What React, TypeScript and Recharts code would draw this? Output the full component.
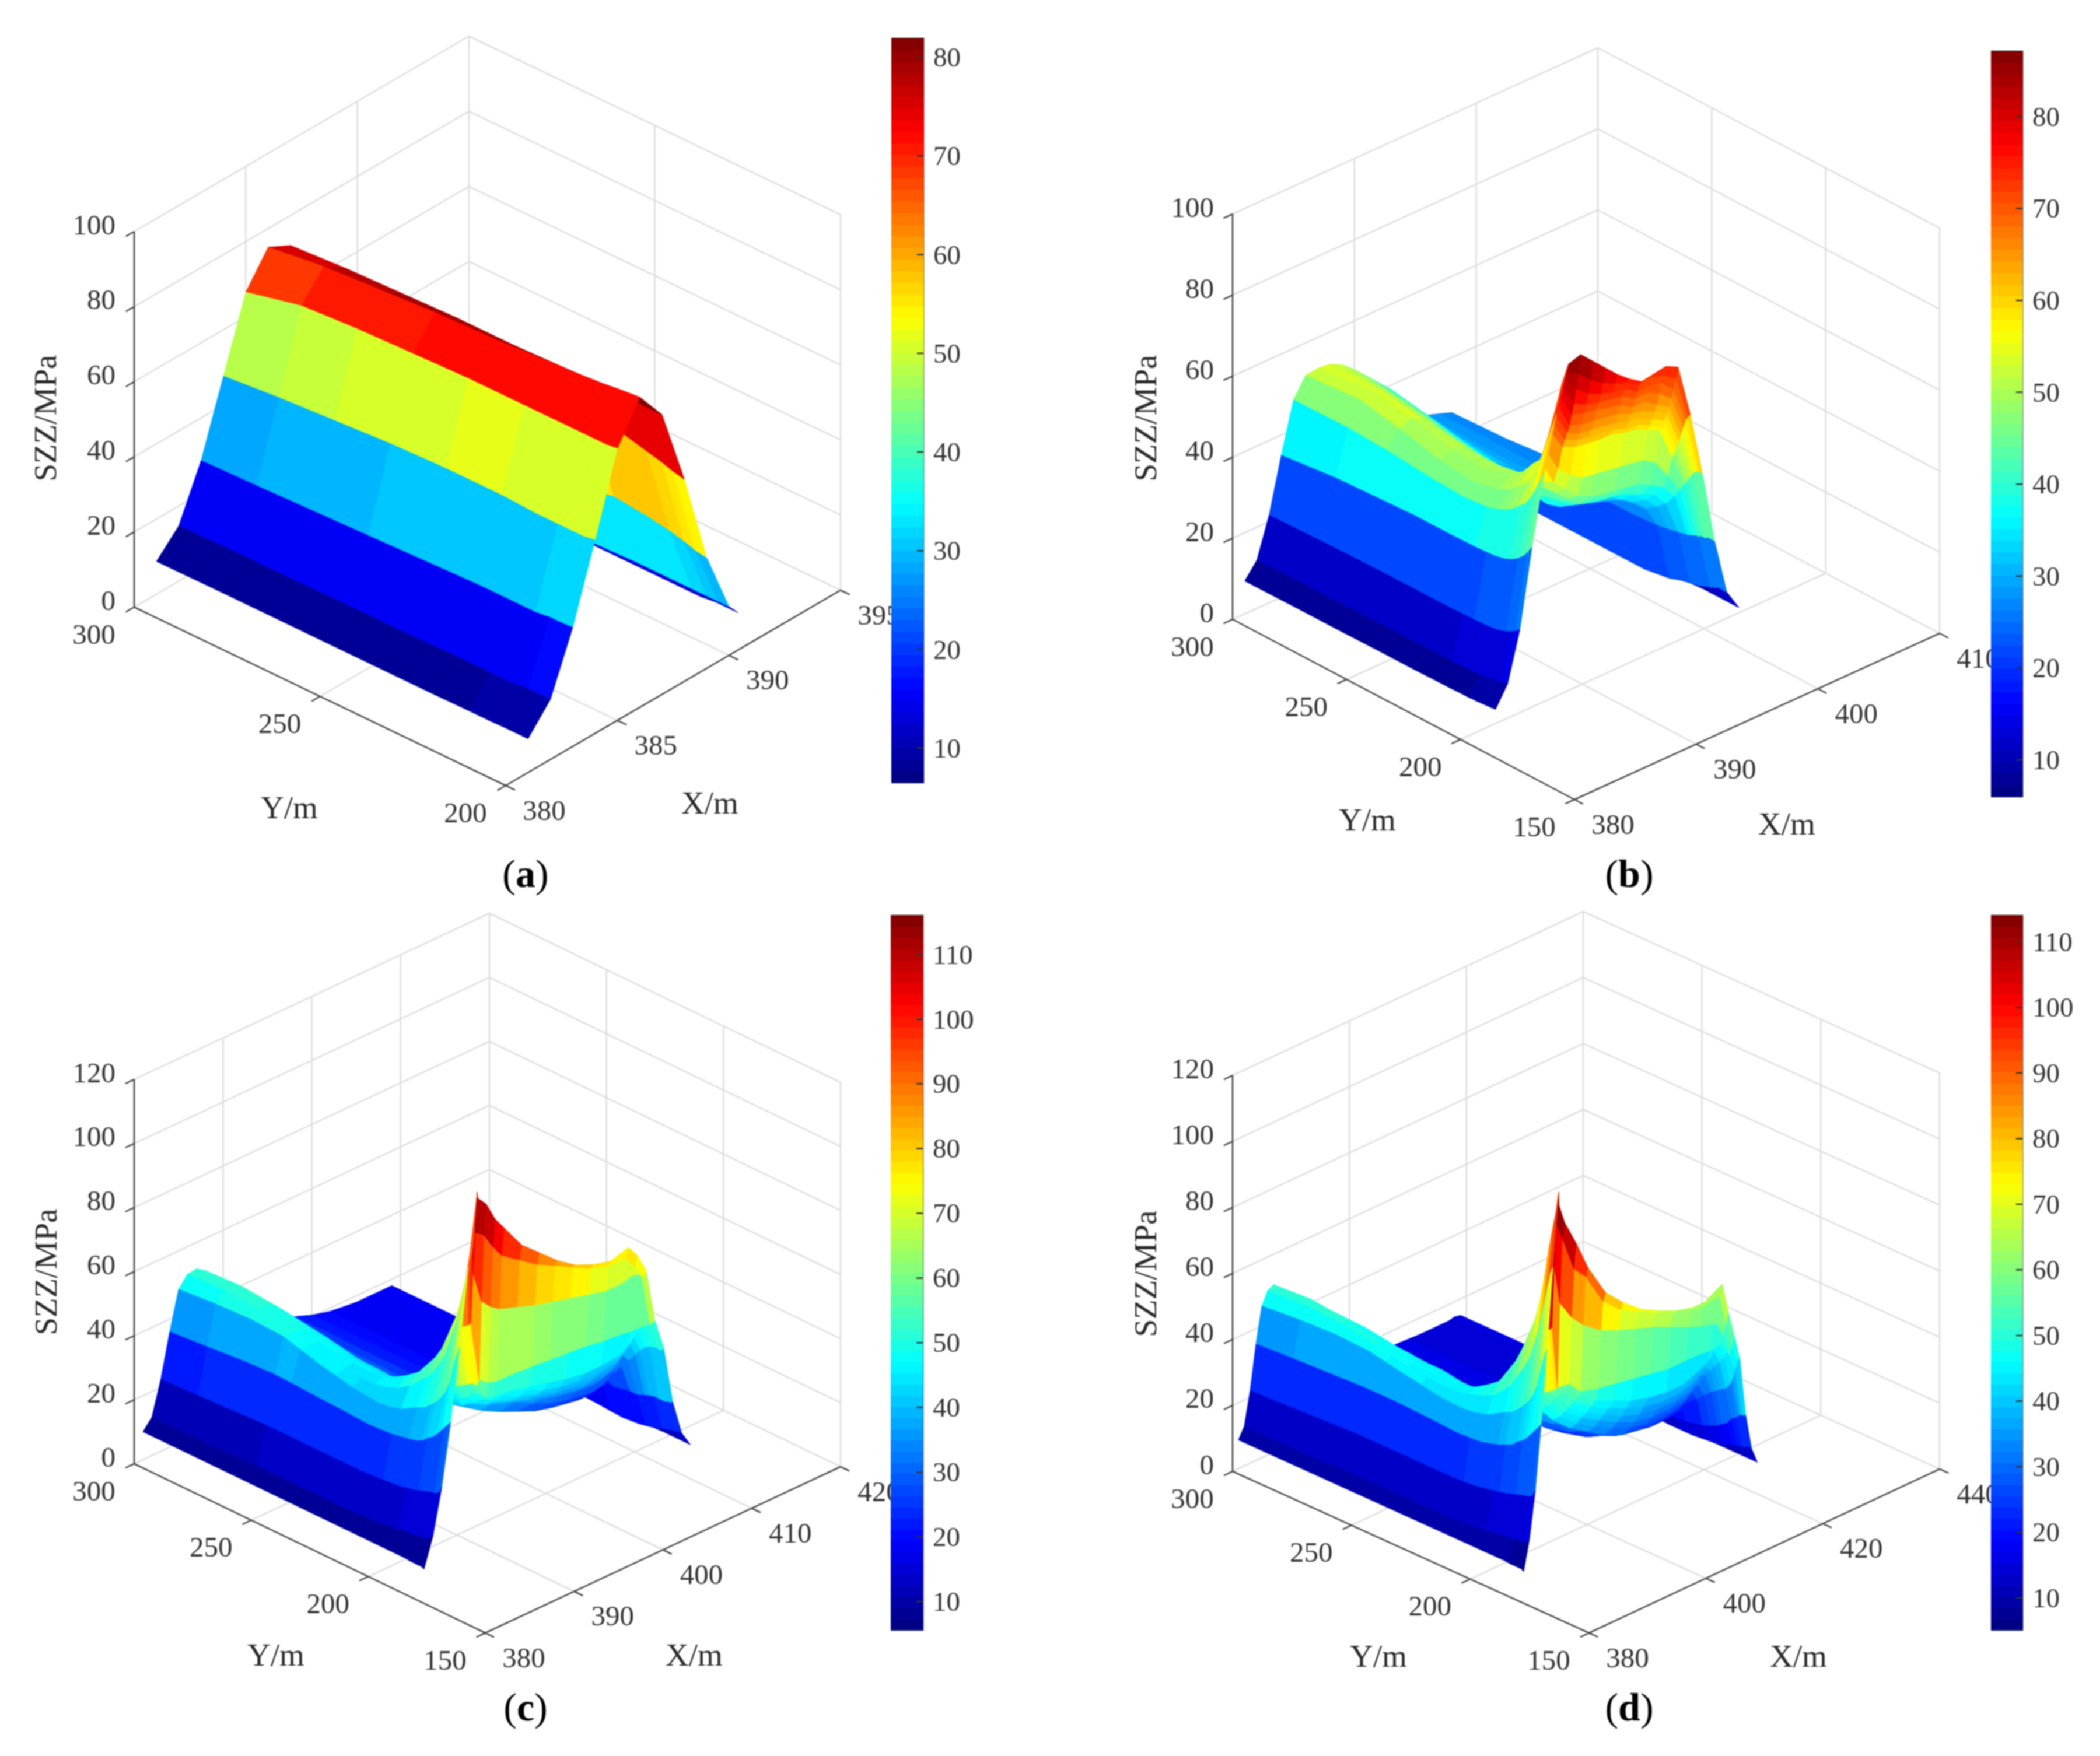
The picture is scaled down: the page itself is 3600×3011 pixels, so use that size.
import { ScatterChart, Scatter, XAxis, YAxis, BarChart, Bar, ReferenceArea } from 'recharts'

// ---- panel (a) ----
const aX = [381, 382, 383, 384, 385, 386, 387, 388, 389, 390, 390.4]
const aY = [300, 285, 270, 255, 240, 225, 216, 210, 206, 203, 200]
const aZ = [
    [8.7, 14.7, 28.6, 47.6, 66.5, 75, 72, 52, 28, 12, 9],
    [8.8, 15, 29, 49, 70, 77, 73, 52.5, 28.5, 12, 9],
    [8.8, 15, 29.5, 50, 71, 78, 73.5, 53, 29, 12.5, 9],
    [8.8, 15.2, 30, 51, 71.5, 79, 74, 53, 30, 12.5, 9.5],
    [8.8, 15.2, 30.5, 51.5, 72, 79.5, 74, 54, 31, 12.5, 9.5],
    [8.8, 15.5, 31, 51.5, 72, 80.5, 74.5, 57, 34, 13, 9.5],
    [8.9, 15.5, 31, 51, 72, 81, 74.5, 58, 33, 13, 9.5],
    [8.9, 15.5, 31, 51, 72, 81.5, 74.5, 56.5, 32, 13, 9.5],
    [9, 16, 31.5, 51, 72, 82, 74.5, 55.5, 31, 13, 10],
    [9, 16, 31.5, 51, 72, 82.3, 74.5, 54.5, 30, 13, 10],
    [9, 16, 31.7, 51.5, 72.4, 82.6, 74.5, 53.8, 29.5, 13, 10],
]

// ---- panel (b) ----
const bX = [381, 382, 383, 384, 385, 386, 387, 388, 389, 390, 391, 392, 393, 394, 395, 396, 397, 398, 399, 400, 401]
const bY = [300, 276, 259, 241, 226, 215, 210, 206, 202, 200, 198, 197, 196, 195, 194, 193, 192, 191, 190]
const bZ = [
    [8.1, 11.9, 21.6, 35, 47.3, 52, 52.4, 52, 50.5, 48, 45, 42, 39, 35.5, 30, 28.5, 27.5, 26.4, 20, 7, 6.8],
    [8.2, 12, 22, 36.5, 47.5, 53, 54, 52, 49, 46.5, 43, 39.5, 36.5, 33, 30, 28, 27.5, 27, 21, 7, 6.8],
    [8.2, 12.1, 22.2, 37, 47, 51, 52.3, 50.5, 47.5, 44.5, 41, 37, 34, 31.5, 29.5, 28, 27.5, 28, 22, 7, 6.8],
    [8.3, 12.2, 22.3, 37.5, 46, 48.5, 49.8, 49, 46, 43, 39, 35, 32, 30.5, 29, 28.5, 28, 27, 22, 7, 6.8],
    [8.3, 12.2, 22.3, 37.5, 45.5, 47.5, 49, 49, 46, 43, 38, 34, 32, 31, 30, 29, 28.5, 27, 22, 7, 6.8],
    [8.4, 12.3, 22.4, 37.6, 46, 49, 51.7, 50, 46.5, 43.5, 39.5, 37, 36, 35.5, 35, 33, 31, 28, 22.5, 8, 6.8],
    [8.4, 12.4, 22.5, 37.8, 47, 50.5, 53.5, 50, 46.5, 43.5, 40.5, 39, 38, 37.5, 37, 35.5, 33, 30, 23, 9, 6.8],
    [8.5, 12.5, 22.6, 38, 48, 52.5, 56.5, 51, 47, 44, 41.5, 41, 40, 39.5, 38.5, 37, 35.5, 32, 23.5, 9.5, 6.8],
    [8.5, 12.6, 22.8, 38.5, 49.8, 55, 59, 52, 49, 46, 44.5, 43.5, 43, 42.5, 42, 40.5, 38.5, 35, 24, 10, 6.8],
    [8.6, 12.8, 23, 39, 51, 57, 62, 56, 53, 51, 50.5, 50, 49.5, 49, 48.5, 46.5, 42, 37, 24.5, 10.5, 6.8],
    [8.6, 13, 23.3, 39.6, 52, 60, 67, 62, 60.5, 60, 59.5, 59.5, 58.5, 58, 56.5, 55, 47, 39, 25, 11, 6.8],
    [8.7, 13, 23.5, 40, 53, 61.5, 69.5, 64, 62.5, 62, 61.5, 61, 60, 59.5, 58, 56, 48.5, 40, 25, 11, 6.8],
    [8.7, 13.2, 23.7, 40.4, 54, 63, 72, 66, 64.5, 64, 63.5, 63, 62, 61.5, 60, 58, 50, 41, 25.5, 11.5, 6.8],
    [8.8, 13.3, 24, 41, 55.2, 65, 75, 68, 67, 66.5, 66, 65.5, 64, 63.5, 62, 60, 52, 42, 25.5, 11.5, 6.8],
    [8.8, 13.5, 24.3, 41.5, 56.5, 67, 77, 71, 70, 69.5, 68.5, 68, 66, 66, 64, 62, 54, 43, 25.5, 12, 6.8],
    [8.9, 13.6, 24.6, 42.2, 57.7, 69, 80, 74, 72.5, 71.5, 71, 70.5, 68.5, 68.5, 67, 64.5, 56, 43.5, 26, 12, 6.8],
    [8.9, 13.8, 25, 43, 59, 71, 82, 78, 75.5, 74, 73, 72.5, 70.5, 70.5, 70, 67, 58, 44, 26, 12, 6.8],
    [9, 14, 25.5, 44, 60.5, 73, 84, 82, 79, 77, 75.5, 74.5, 72.5, 73, 72, 70, 59, 44, 26, 12, 6.8],
    [9, 14, 26, 45, 62, 75, 86, 87, 84, 81, 78, 75.5, 73.5, 74, 74.5, 73, 60, 44, 26, 12, 6.8],
]

// ---- panel (c) ----
const cX = [381, 382, 383, 384, 385, 386, 387, 387.05, 388, 389, 390, 392, 394, 396, 398, 400, 402, 404, 405, 406, 407, 408, 409, 410, 411]
const cY = [300, 284, 269, 255, 248, 241, 233, 226, 220, 215, 210, 205, 198, 195, 192, 190, 188, 186, 184, 183, 182, 181, 180]
const cZ = [
    [8.7, 12, 22.5, 36, 48, 51.4, 51.8, 51.7, 50, 47, 44, 36, 31, 26.5, 22.6, 20.5, 19, 18.3, 18, 18, 18, 18, 18, 13, 8],
    [8.7, 12, 23, 37, 49, 52, 52.8, 52.7, 50.5, 47, 44, 36, 30.5, 26, 22.8, 20.5, 19, 18.3, 18, 18, 18, 18, 18, 13, 8],
    [8.7, 12, 23.5, 38, 49.5, 51.5, 52, 51.9, 49.5, 46.5, 43.5, 35.5, 30, 25.5, 22.5, 20.5, 19, 18.3, 18, 18, 18, 18, 18, 12.5, 8],
    [8.7, 12.5, 24, 38.5, 49, 49, 49, 48.9, 47, 45, 42, 34.5, 29.5, 25.5, 22.5, 20.5, 19, 18.3, 18, 18, 18, 18, 18, 12, 8],
    [8.7, 12.5, 24, 38.3, 47.5, 47.5, 47.7, 47.6, 46, 44, 41, 33.5, 29, 25, 22.5, 20.5, 19, 18.3, 18, 18, 18, 18, 18, 11.5, 8],
    [8.7, 12.5, 24, 38, 46, 46, 46.7, 46.6, 45, 43, 40, 33, 28.5, 25, 22.5, 20.5, 19, 18.3, 18, 17.5, 17.5, 18, 18, 11, 8],
    [8.7, 12.5, 24, 37.7, 44.7, 45.3, 46, 45.9, 44.5, 42.5, 40, 33, 28.5, 25, 22.8, 20.7, 19.2, 18.5, 18, 17.8, 17.8, 18.2, 18.2, 10.5, 8],
    [8.7, 12.5, 24, 37.5, 43.5, 45, 45.7, 45.6, 44, 42, 39.5, 33, 29, 26, 23.5, 21, 19.5, 18.7, 18.3, 18, 18, 18.5, 18.5, 10, 8],
    [8.7, 12.5, 24, 37.2, 43, 45.3, 46.5, 46.4, 44, 42, 39.5, 33.5, 29.5, 26.5, 24, 21.5, 20, 19, 18.6, 18.2, 18.2, 19, 18.8, 9.7, 8],
    [8.7, 12.5, 24, 37, 42.6, 46, 48, 47.8, 45, 43, 40, 34, 30, 27, 24.5, 22, 20.5, 19.5, 19, 18.5, 18.5, 20, 19, 9.5, 8],
    [8.7, 12.8, 24.2, 37.2, 43, 47.5, 50.2, 50, 47, 44.5, 42, 35, 31, 28, 25.5, 23, 21.5, 20.5, 20, 19.5, 20, 21.5, 19.5, 9.2, 8],
    [8.7, 13, 24.5, 37.5, 44, 50, 53, 52.5, 49, 46, 44, 36, 32, 29, 26.5, 24, 22.5, 21.5, 21, 21, 22, 24, 20, 9, 8],
    [8.7, 13.5, 25, 38.5, 47, 55, 60, 58, 55, 50, 47, 42, 38, 34.5, 31.5, 29, 27.5, 26.5, 26.5, 27, 29, 30, 21, 9.5, 8],
    [8.7, 14, 25.5, 39, 48, 58, 64, 60, 50, 46, 43, 40, 38, 36, 34, 32, 31, 30.4, 31, 32, 37, 33, 21, 10, 8],
    [8.7, 14.5, 26, 40, 50, 62, 70, 64, 52, 47, 44.5, 42, 39.5, 37.5, 35.5, 34, 33, 33, 34, 36, 42, 36, 22, 10.5, 8],
    [8.7, 14.5, 26.5, 41.5, 51.5, 65, 74, 68, 53, 49, 46, 43, 41, 39, 37, 36, 35, 35, 36, 39, 45, 38, 22.5, 11, 8],
    [8.7, 14.5, 27, 42.5, 53.5, 70, 78, 72, 54, 50, 46.5, 45, 42.5, 40.5, 38.5, 37.5, 37, 37.5, 39, 42, 47, 39.5, 23, 11.5, 8],
    [8.5, 15, 27.5, 44, 56, 75, 85, 74, 55, 50, 47, 47, 45, 42.5, 41, 40, 39.5, 40.5, 42, 45, 49, 40.5, 23, 12, 8],
    [8.5, 15, 28, 46, 60, 80, 92, 75, 55, 50, 49, 48.5, 47, 45.5, 44, 43, 43, 43.5, 45, 48, 51, 41, 23, 12.5, 8],
    [8.5, 15, 28, 47, 64, 84, 96, 76, 57, 55, 54, 54, 53.5, 53, 52.5, 52, 51, 50.5, 50, 50, 49.5, 41, 23, 12.5, 8],
    [8.5, 15.5, 28.5, 48, 67, 88, 100, 92, 82, 79, 77, 75, 73, 71.5, 70, 68.5, 67, 67, 68, 67, 50, 41, 23.5, 13, 8],
    [8.5, 16, 29, 49, 70, 92, 108, 105, 103, 98, 94, 90, 86, 83, 80, 77, 75, 75, 71, 66, 51, 41, 23.5, 13, 8],
    [8, 17, 31, 50, 72, 96, 118, 116, 113, 107, 103, 95, 90, 85, 81, 78.5, 77, 78.6, 75, 69, 52, 42, 24, 13, 8],
]

// ---- panel (d) ----
const dX = [381, 382, 383, 384, 385, 386, 387, 387.05, 388, 390, 392, 395, 398, 401, 404, 407, 410, 412, 414, 415, 416, 417, 418, 419, 420, 421]
const dY = [300, 284, 269, 255, 248, 241, 233, 226, 220, 215, 210, 205, 198, 195, 192, 190, 188, 186, 184, 183, 182, 181, 180]
const dZ = [
    [8.7, 12, 22, 35.3, 46, 49.8, 50.8, 50.7, 49, 46, 41, 33, 26, 20, 16.5, 15.5, 15.2, 15, 15, 15, 15, 15, 15.4, 15, 11, 8],
    [8.7, 12, 22.5, 36, 47, 50.5, 51.5, 51.4, 49.5, 46, 41, 33, 26, 20, 16.5, 15.5, 15.2, 15, 15, 15, 15, 15, 15.4, 15, 11, 8],
    [8.7, 12, 23, 36.5, 47.5, 50, 50.2, 50.1, 48.5, 45.5, 41, 33, 26.5, 20.5, 17, 15.5, 15.2, 15, 15, 15, 15, 15, 15.4, 15, 10.5, 8],
    [8.7, 12.5, 23.5, 37, 47, 48, 48, 47.9, 46.5, 44, 40.5, 33, 27, 21, 17, 15.5, 15.2, 15, 15, 15, 15, 15, 15.4, 14.5, 10, 8],
    [8.7, 12.5, 23.5, 37, 46, 47, 47, 46.9, 45.7, 43.5, 40, 32.5, 26, 21, 17.2, 15.7, 15.2, 15, 15, 15, 15, 15, 15.4, 14.2, 9.8, 8],
    [8.7, 12.5, 23.5, 37, 45, 46, 46.3, 46.2, 45, 43, 40, 33, 27, 21.5, 17.5, 16, 15.2, 15, 15, 15, 15, 15, 15.4, 14, 9.5, 8],
    [8.7, 12.5, 23.5, 36.7, 44, 45.4, 45.9, 45.8, 44.5, 42.5, 39, 32, 26, 21, 17.5, 15.8, 15.3, 15, 15, 15, 15, 15.2, 15.4, 13.8, 9.5, 8],
    [8.7, 12.5, 23.5, 36.5, 43, 45, 45.7, 45.6, 44, 42, 39, 33, 27.5, 22, 18, 16, 15.5, 15.2, 15, 15, 15, 15.5, 15.5, 13.5, 9.5, 8],
    [8.7, 12.5, 23.5, 36.2, 42.6, 45.3, 46.3, 46.2, 45, 42.5, 39, 32.5, 27, 22, 18, 16.3, 15.7, 15.3, 15.2, 15.2, 15.5, 16, 16, 13.3, 9.3, 8],
    [8.7, 12.5, 23.5, 36, 42.5, 46, 47.5, 47.3, 46, 43.5, 40, 34, 28.5, 23, 19, 17, 16, 15.5, 15.5, 15.5, 16, 16.5, 16.5, 13, 9, 8],
    [8.7, 12.7, 23.7, 36.2, 43, 47.3, 49.8, 49.5, 48, 44.5, 41, 34.5, 29, 24, 20, 18, 17, 16.5, 16.8, 17, 17.5, 18.5, 18, 13.5, 9, 8],
    [8.7, 13, 24, 36.5, 44, 49, 52.5, 52, 50, 46, 42, 36, 31, 26, 22, 19.5, 18.5, 18, 18.5, 18.5, 19.5, 21, 20, 14, 9, 8],
    [8.7, 13.5, 25, 38, 47, 54, 61, 58, 52, 49, 44, 38.5, 33.5, 29, 25.5, 23, 22, 22, 22.5, 23, 25, 27, 24, 15, 9.5, 8],
    [8.7, 14, 25.5, 39, 48, 58, 66, 60, 50, 45, 40, 35, 31.5, 28, 25.5, 24.6, 24.5, 25, 26, 27.5, 30, 30, 26, 16, 10, 8],
    [8.7, 14.5, 26, 40, 50, 62, 72, 64, 52, 47, 42, 37.5, 34, 31, 28.5, 27.5, 27.5, 28, 29.5, 32, 35, 34, 28, 17, 10.5, 8],
    [8.7, 14.5, 26.5, 41.5, 51.5, 65, 76, 68, 53, 49, 44, 40, 36.5, 33.5, 31, 30, 30, 31, 32.5, 35, 38, 36, 29, 18, 11, 8],
    [8.7, 14.5, 27, 42.5, 53.5, 70, 82, 72, 54, 51, 46, 42, 39, 36, 34, 33, 33, 34, 36, 38.5, 41, 38, 30, 19, 11.5, 8],
    [8.5, 15, 27.5, 44, 56, 76, 90, 74, 55, 53, 48.5, 44.5, 41.5, 39, 37, 36, 36, 37, 39, 41.5, 44, 40, 31, 21, 12, 8],
    [8.5, 15, 28, 46, 60, 82, 100, 75, 56, 55, 50.5, 47, 44.5, 42, 40.5, 39.5, 39.5, 41, 42.5, 45, 47, 42, 33, 22, 12.5, 8],
    [8.5, 15, 28, 47, 64, 86, 104, 76, 57, 56.6, 52.5, 51, 50, 49, 48, 47, 47, 47, 46.5, 46.5, 47, 44, 35, 23, 12.5, 8],
    [8.5, 15.5, 28.5, 48, 67, 90, 108, 95, 83, 77, 73, 69, 66.5, 64.5, 62.5, 60, 57.5, 56, 55, 54, 50, 43, 38, 23.5, 13, 8],
    [8.5, 16, 29, 49, 70, 94, 112, 108, 103, 92, 88, 78, 73, 70, 67, 65, 63, 62, 63, 63, 54, 46, 41, 23.5, 13, 8],
    [8, 17, 31, 50, 72, 96, 118, 114, 108, 100, 91, 81, 75.5, 71, 68, 65.5, 64, 64, 66, 67, 58, 50, 42, 24, 13, 8],
]

// axis ticks of the four panels
const aXTicks = [380, 385, 390, 395]
const aYTicks = [300, 250, 200]
const aZTicks = [0, 20, 40, 60, 80, 100]
const bXTicks = [380, 390, 400, 410]
const bYTicks = [300, 250, 200, 150]
const bZTicks = [0, 20, 40, 60, 80, 100]
const cXTicks = [380, 390, 400, 410, 420]
const cYTicks = [300, 250, 200, 150]
const cZTicks = [0, 20, 40, 60, 80, 100, 120]
const dXTicks = [380, 400, 420, 440]
const dYTicks = [300, 250, 200, 150]
const dZTicks = [0, 20, 40, 60, 80, 100, 120]

// colorbars: limits and ticks
const aLimits = [6.5, 81.9]
const bLimits = [6.0, 87.1]
const cLimits = [5.6, 116]
const dLimits = [5.1, 114]
const aBarTicks = [10, 20, 30, 40, 50, 60, 70, 80]
const bBarTicks = [10, 20, 30, 40, 50, 60, 70, 80]
const cBarTicks = [10, 20, 30, 40, 50, 60, 70, 80, 90, 100, 110]
const dBarTicks = [10, 20, 30, 40, 50, 60, 70, 80, 90, 100, 110]

const FONT = '"Liberation Serif", serif'
const LEVELS = 64
const clamp = (v: number) => Math.max(0, Math.min(1, v))
const jet = (t: number) => {
    const ch = (c: number) => Math.round(255 * clamp(1.5 - Math.abs(4 * t - c)))
    return `rgb(${ch(3)},${ch(2)},${ch(1)})`
}
const jetBin = (v: number, lim: number[]) => {
    const i = Math.max(0, Math.min(LEVELS - 1, Math.floor(((v - lim[0]) / (lim[1] - lim[0])) * LEVELS)))
    return jet((i + 0.5) / LEVELS)
}

// fill a list of 4-point faces, the points come from the chart's own scales
const facesLine = (colors: string[]) => ({ points }: any) => (
    <g>
        {colors.map((c, i) => {
            const q = points.slice(i * 4, i * 4 + 4)
            const d = q.map((p: any, k: number) => `${k ? 'L' : 'M'}${p.x} ${p.y}`).join(' ') + 'Z'
            return <path key={i} d={d} fill={c} stroke={c} strokeWidth={1} strokeLinejoin="round" />
        })}
    </g>
)

const segmentsLine = (color: string, width: number) => ({ points }: any) => {
    let d = ''
    for (let i = 0; i + 1 < points.length; i += 2) {
        d += `M${points[i].x} ${points[i].y}L${points[i + 1].x} ${points[i + 1].y}`
    }
    return <path d={d} fill="none" stroke={color} strokeWidth={width} />
}

const noDot = () => null

const TextMark = ({ cx, cy, payload }: any) => (
    <text
        x={cx}
        y={cy}
        fontFamily={FONT}
        fontSize={payload.size}
        fill={payload.color}
        textAnchor={payload.anchor}
        dominantBaseline="central"
        transform={payload.rotate ? `rotate(-90 ${cx} ${cy})` : undefined}
    >
        {payload.label}
        {payload.bold ? <tspan fontWeight="bold">{payload.bold}</tspan> : null}
        {payload.bold ? ')' : null}
    </text>
)

type PanelSpec = {
    left: number; top: number; width: number; height: number
    origin: number[]; ex: number[]; ey: number[]; ez: number
    xs: number[]; ys: number[]; zs: number[][]
    xTicks: number[]; yTicks: number[]; zTicks: number[]
    limits: number[]
    zLabel: number[]; yLabel: number[]; xLabel: number[]; caption: number[]; letter: string
}

function Panel({ p }: { p: PanelSpec }) {
    const x0 = p.xTicks[0], x1 = p.xTicks[p.xTicks.length - 1]
    const y0 = p.yTicks[0], y1 = p.yTicks[p.yTicks.length - 1]
    const z1 = p.zTicks[p.zTicks.length - 1]
    const project = (x: number, y: number, z: number) => {
        const a = (x - x0) / (x1 - x0), b = (y0 - y) / (y0 - y1), c = z / z1
        return {
            px: p.origin[0] + a * p.ex[0] + b * p.ey[0],
            py: p.origin[1] + a * p.ex[1] + b * p.ey[1] + c * p.ez,
        }
    }

    // far rows and far columns first so the near faces paint over them
    const faceData: any[] = []
    const faceColors: string[] = []
    for (let r = 0; r < p.ys.length - 1; r++) {
        for (let c = p.xs.length - 2; c >= 0; c--) {
            faceData.push(
                project(p.xs[c], p.ys[r], p.zs[r][c]),
                project(p.xs[c + 1], p.ys[r], p.zs[r][c + 1]),
                project(p.xs[c + 1], p.ys[r + 1], p.zs[r + 1][c + 1]),
                project(p.xs[c], p.ys[r + 1], p.zs[r + 1][c]),
            )
            faceColors.push(jetBin((p.zs[r][c] + p.zs[r + 1][c]) / 2, p.limits))
        }
    }

    const grid: any[] = []
    p.xTicks.forEach(x => {
        grid.push(project(x, y0, 0), project(x, y1, 0))
        grid.push(project(x, y0, 0), project(x, y0, z1))
    })
    p.yTicks.forEach(y => {
        grid.push(project(x0, y, 0), project(x1, y, 0))
        grid.push(project(x1, y, 0), project(x1, y, z1))
    })
    p.zTicks.forEach(z => {
        grid.push(project(x0, y0, z), project(x1, y0, z))
        grid.push(project(x1, y0, z), project(x1, y1, z))
    })

    const xLen = (x1 - x0) * 0.025, yLen = (y0 - y1) * 0.025
    const axes: any[] = [
        project(x0, y0, 0), project(x0, y0, z1),
        project(x0, y0, 0), project(x0, y1, 0),
        project(x0, y1, 0), project(x1, y1, 0),
    ]
    p.zTicks.forEach(z => axes.push(project(x0, y0, z), project(x0 - xLen, y0, z)))
    p.yTicks.forEach(y => axes.push(project(x0, y, 0), project(x0 - xLen, y, 0)))
    p.xTicks.forEach(x => axes.push(project(x, y1, 0), project(x, y1 - yLen, 0)))

    const tick = { size: 49, color: '#333', anchor: 'middle' }
    const texts: any[] = []
    p.zTicks.forEach(z => {
        const q = project(x0, y0, z)
        texts.push({ ...tick, anchor: 'end', px: q.px - 32, py: q.py - 12, label: String(z) })
    })
    p.yTicks.forEach(y => {
        const q = project(x0, y, 0)
        texts.push({ ...tick, px: q.px - 69, py: q.py + 46, label: String(y) })
    })
    p.xTicks.forEach(x => {
        const q = project(x, y1, 0)
        texts.push({ ...tick, px: q.px + 66, py: q.py + 42, label: String(x) })
    })
    const title = { size: 55, color: '#2a2a2a', anchor: 'middle' }
    texts.push({ ...title, px: p.zLabel[0], py: p.zLabel[1], label: 'SZZ/MPa', rotate: true })
    texts.push({ ...title, px: p.yLabel[0], py: p.yLabel[1], label: 'Y/m' })
    texts.push({ ...title, px: p.xLabel[0], py: p.xLabel[1], label: 'X/m' })
    texts.push({ size: 68, color: '#000', anchor: 'middle', px: p.caption[0], py: p.caption[1], label: '(', bold: p.letter })

    return (
        <div style={{ position: 'absolute', left: p.left, top: p.top }}>
            <ScatterChart width={p.width} height={p.height} margin={{ top: 0, right: 0, bottom: 0, left: 0 }}>
                <XAxis type="number" dataKey="px" domain={[0, p.width]} hide allowDataOverflow />
                <YAxis type="number" dataKey="py" domain={[0, p.height]} reversed hide allowDataOverflow />
                <Scatter data={grid} shape={noDot} line={segmentsLine('#dedede', 2.5)} isAnimationActive={false} />
                <Scatter data={axes} shape={noDot} line={segmentsLine('#454545', 2.5)} isAnimationActive={false} />
                <Scatter data={faceData} shape={noDot} line={facesLine(faceColors)} isAnimationActive={false} />
                <Scatter data={texts} shape={TextMark} isAnimationActive={false} />
            </ScatterChart>
        </div>
    )
}

const BarTick = ({ x, y, payload }: any) => (
    <g>
        <line x1={x - 11} x2={x} y1={y} y2={y} stroke="#333" strokeWidth={2.5} />
        <text x={x + 17} y={y} fontFamily={FONT} fontSize={47} fill="#333" dominantBaseline="central">
            {payload.value}
        </text>
    </g>
)

function ColorBar({ left, right, top, bottom, limits, ticks }: { left: number; right: number; top: number; bottom: number; limits: number[]; ticks: number[] }) {
    const pad = 30
    const axisWidth = 90
    const step = (limits[1] - limits[0]) / LEVELS
    const row: any = { name: 'bar' }
    const keys: string[] = []
    for (let i = 0; i < LEVELS; i++) {
        keys.push(`l${i}`)
        row[`l${i}`] = i === 0 ? limits[0] + step : step
    }
    return (
        <div style={{ position: 'absolute', left, top: top - pad }}>
            <BarChart
                width={right - left + axisWidth}
                height={bottom - top + pad * 2}
                data={[row]}
                barCategoryGap={0}
                margin={{ top: pad, right: 0, bottom: pad, left: 0 }}
            >
                <XAxis dataKey="name" hide />
                <YAxis
                    orientation="right"
                    type="number"
                    width={axisWidth}
                    domain={limits}
                    ticks={ticks}
                    interval={0}
                    allowDataOverflow
                    axisLine={false}
                    tickLine={false}
                    tickSize={0}
                    tickMargin={0}
                    tick={BarTick}
                />
                {keys.map((k, i) => {
                    const c = jet((i + 0.5) / LEVELS)
                    return <Bar key={k} dataKey={k} stackId="cb" fill={c} stroke={c} strokeWidth={1} isAnimationActive={false} />
                })}
                <ReferenceArea y1={limits[0]} y2={limits[1]} fill="none" stroke="#333" strokeWidth={2.5} ifOverflow="visible" />
            </BarChart>
        </div>
    )
}

const panels: PanelSpec[] = [
    {
        left: 0, top: 0, width: 1800, height: 1560,
        origin: [230, 1041], ex: [574, -335], ey: [637, 306], ez: -644,
        xs: aX, ys: aY, zs: aZ, xTicks: aXTicks, yTicks: aYTicks, zTicks: aZTicks, limits: aLimits,
        zLabel: [77, 717], yLabel: [496, 1384], xLabel: [1217, 1376], caption: [901, 1498], letter: 'a',
    },
    {
        left: 1800, top: 0, width: 1800, height: 1560,
        origin: [313, 1062], ex: [626, -285], ey: [586, 309], ez: -695,
        xs: bX, ys: bY, zs: bZ, xTicks: bXTicks, yTicks: bYTicks, zTicks: bZTicks, limits: bLimits,
        zLabel: [163, 717], yLabel: [544, 1405], xLabel: [1263, 1412], caption: [993, 1498], letter: 'b',
    },
    {
        left: 0, top: 1530, width: 1800, height: 1481,
        origin: [230, 980], ex: [609, -285], ey: [602, 290], ez: -659,
        xs: cX, ys: cY, zs: cZ, xTicks: cXTicks, yTicks: cYTicks, zTicks: cZTicks, limits: cLimits,
        zLabel: [78, 651], yLabel: [473, 1307], xLabel: [1190, 1307], caption: [901, 1397], letter: 'c',
    },
    {
        left: 1800, top: 1530, width: 1800, height: 1481,
        origin: [313, 993], ex: [601, -281], ey: [611, 277], ez: -679,
        xs: dX, ys: dY, zs: dZ, xTicks: dXTicks, yTicks: dYTicks, zTicks: dZTicks, limits: dLimits,
        zLabel: [163, 654], yLabel: [563, 1309], xLabel: [1283, 1309], caption: [993, 1397], letter: 'd',
    },
]

export default function App() {
    return (
        <div style={{ position: 'absolute', left: 0, top: 0, width: 3600, height: 3011, background: '#fff', overflow: 'hidden', filter: 'blur(1px)' }}>
            {panels.map(p => <Panel key={p.letter} p={p} />)}
            <ColorBar left={1528} right={1583} top={66} bottom={1342} limits={aLimits} ticks={aBarTicks} />
            <ColorBar left={3413} right={3467} top={88} bottom={1366} limits={bLimits} ticks={bBarTicks} />
            <ColorBar left={1527} right={1582} top={1570} bottom={2795} limits={cLimits} ticks={cBarTicks} />
            <ColorBar left={3413} right={3467} top={1570} bottom={2795} limits={dLimits} ticks={dBarTicks} />
        </div>
    )
}
